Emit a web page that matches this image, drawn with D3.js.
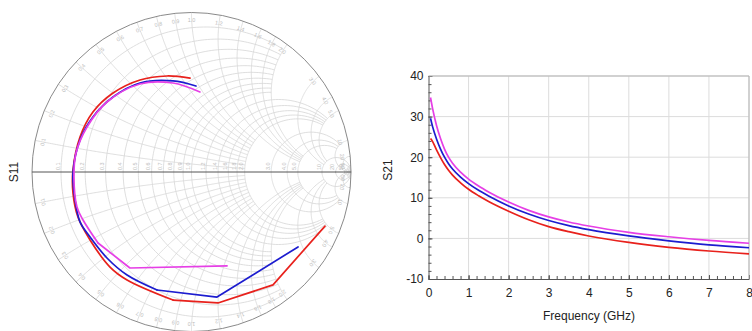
<!DOCTYPE html>
<html>
<head>
<meta charset="utf-8">
<script src="https://cdn.jsdelivr.net/npm/d3@7"></script>
<style>
  body { margin: 0; background: #fff; }
  svg { display: block; font-family: "Liberation Sans", Arial, sans-serif; }
</style>
</head>
<body>
<div id="chart"></div>
<script>
// S11 traces as reflection coefficient [re, im]; smooth arc part + straight tail
const s11RedArc = [
  [-0.009, 0.589], [-0.154, 0.602], [-0.323, 0.577], [-0.492, 0.495], [-0.618, 0.376],
  [-0.699, 0.219], [-0.743, 0.013], [-0.743, -0.132], [-0.712, -0.282], [-0.636, -0.426],
  [-0.511, -0.596], [-0.404, -0.677], [-0.116, -0.803]
];
const s11RedTail = [[-0.116, -0.803], [0.166, -0.821], [0.511, -0.708], [0.837, -0.339]];
const s11BlueArc = [
  [0.028, 0.539], [-0.116, 0.571], [-0.323, 0.558], [-0.492, 0.470], [-0.618, 0.345],
  [-0.699, 0.201], [-0.743, -0.006], [-0.730, -0.176], [-0.699, -0.313], [-0.636, -0.408],
  [-0.530, -0.539], [-0.404, -0.646], [-0.216, -0.740]
];
const s11BlueTail = [[-0.216, -0.740], [0.160, -0.784], [0.668, -0.470]];
const s11MagentaArc = [
  [0.053, 0.502], [-0.116, 0.558], [-0.323, 0.552], [-0.530, 0.439], [-0.655, 0.282],
  [-0.724, 0.119], [-0.737, -0.031], [-0.718, -0.219], [-0.680, -0.301], [-0.586, -0.445]
];
const s11MagentaTail = [[-0.586, -0.445], [-0.386, -0.602], [0.223, -0.589]];

// S21 (dB) vs frequency
const freqGHz    = [0.05, 0.1, 0.2, 0.3, 0.4, 0.5, 0.6, 0.8, 1.0, 1.25, 1.5, 2, 2.5, 3, 3.5, 4, 5, 6, 7, 8];
const s21Magenta = [34.7, 32.1, 27.8, 24.6, 22.0, 20.0, 18.5, 16.3, 14.6, 12.9, 11.45, 8.95, 6.9, 5.3, 4.05, 3.05, 1.5, 0.4, -0.5, -1.2];
const s21Blue    = [29.6, 27.6, 24.5, 22.0, 20.0, 18.4, 17.1, 15.1, 13.5, 11.85, 10.45, 8.0, 6.0, 4.4, 3.15, 2.15, 0.6, -0.6, -1.6, -2.3];
const s21Red     = [24.6, 23.9, 21.8, 19.9, 18.2, 16.8, 15.6, 13.7, 12.1, 10.5, 9.1, 6.7, 4.6, 2.9, 1.65, 0.6, -1.0, -2.2, -3.1, -3.8];

// Smith grid values: [value, truncation limit]
const resistanceGrid = [
  [0.1, 2], [0.2, 2], [0.3, 2], [0.4, 2], [0.5, 2], [0.6, 2], [0.7, 2], [0.8, 2], [0.9, 2], [1.0, 2],
  [1.2, 5], [1.4, 5], [1.6, 5], [1.8, 5], [2.0, 5],
  [3, 10], [4, 10], [5, 10], [10, Infinity], [20, Infinity], [50, Infinity]
];
const reactanceGrid = resistanceGrid;
const gridLabels = ["0.1","0.2","0.3","0.4","0.5","0.6","0.7","0.8","0.9","1.0",
  "1.2","1.4","1.6","1.8","2.0","3.0","4.0","5.0","10","20","50"];

const s21Ticks = [-10, 0, 10, 20, 30, 40];
const s21Minor = d3.range(-10, 41, 2);
const freqTicks = [0, 1, 2, 3, 4, 5, 6, 7, 8];
const freqMinor = d3.range(0, 8.01, 0.2);

const RED = "#e8211c", BLUE = "#1c1ccf", MAGENTA = "#e63fe6";

const svg = d3.select("#chart").append("svg")
  .attr("width", 752).attr("height", 331);
svg.append("rect").attr("width", 752).attr("height", 331).attr("fill", "#fff");

// ---------- Smith chart ----------
const cx = 191.5, cy = 172, R = 159.5;
const sx = d3.scaleLinear().domain([-1, 1]).range([cx - R, cx + R]);
const sy = d3.scaleLinear().domain([-1, 1]).range([cy + R, cy - R]);
const smithLine = d3.line().x(d => sx(d[0])).y(d => sy(d[1]));
const smithSmooth = d3.line().x(d => sx(d[0])).y(d => sy(d[1])).curve(d3.curveCatmullRom.alpha(0.5));

const gam = (r, x) => {
  const d = (r + 1) * (r + 1) + x * x;
  return [(r * r + x * x - 1) / d, 2 * x / d];
};
const N = 180;
function rCircle(r, xmax) {
  const tmax = Math.atan(xmax) * 0.99999;
  return d3.range(N + 1).map(i => gam(r, Math.tan(-tmax + 2 * tmax * i / N)));
}
function xArc(x, rmax) {
  const tmax = Math.atan(rmax) * 0.99999;
  return d3.range(N + 1).map(i => gam(Math.tan(tmax * i / N), x));
}

const grid = svg.append("g").attr("fill", "none").attr("stroke", "#d6d6d6").attr("stroke-width", 0.8);
resistanceGrid.forEach(([r, lim]) => grid.append("path").attr("d", smithLine(rCircle(r, lim))));
reactanceGrid.forEach(([x, lim]) => {
  grid.append("path").attr("d", smithLine(xArc(x, lim)));
  grid.append("path").attr("d", smithLine(xArc(-x, lim)));
});

// resistance labels along the real axis
const lab = svg.append("g").attr("fill", "#bdbdbd").attr("font-size", 5.5);
resistanceGrid.forEach(([r], i) => {
  const px = sx((r - 1) / (r + 1)) - 1.5, py = cy - 2;
  lab.append("text").attr("transform", `translate(${px},${py}) rotate(-90)`).text(gridLabels[i]);
});
// reactance labels just inside the rim
reactanceGrid.forEach(([x], i) => {
  [1, -1].forEach(s => {
    const th = s * (Math.PI - 2 * Math.atan(x));
    const px = sx(0.95 * Math.cos(th)), py = sy(0.95 * Math.sin(th));
    const deg = -th * 180 / Math.PI + 90;
    lab.append("text").attr("text-anchor", "middle")
      .attr("transform", `translate(${px},${py}) rotate(${deg})`).attr("dy", "0.35em")
      .text(gridLabels[i]);
  });
});

svg.append("circle").attr("cx", sx(0)).attr("cy", sy(0)).attr("r", R)
  .attr("fill", "none").attr("stroke", "#8a8a8a").attr("stroke-width", 1);
svg.append("line").attr("x1", sx(-1)).attr("x2", sx(1)).attr("y1", sy(0)).attr("y2", sy(0))
  .attr("stroke", "#555").attr("stroke-width", 1);

[[s11RedArc, s11RedTail, RED], [s11BlueArc, s11BlueTail, BLUE], [s11MagentaArc, s11MagentaTail, MAGENTA]]
  .forEach(([arc, tail, c]) => {
    const p = svg.append("g").attr("fill", "none").attr("stroke", c)
      .attr("stroke-width", 1.7).attr("stroke-linejoin", "round").attr("stroke-linecap", "round");
    p.append("path").attr("d", smithSmooth(arc));
    p.append("path").attr("d", smithLine(tail));
  });

svg.append("text").attr("transform", `translate(18,${cy}) rotate(-90)`)
  .attr("text-anchor", "middle").attr("font-size", 12).attr("fill", "#222").text("S11");

// ---------- S21 rectangular plot ----------
const x = d3.scaleLinear().domain([0, 8]).range([428.5, 749]);
const y = d3.scaleLinear().domain([-10, 40]).range([279, 76]);

const g2 = svg.append("g");
g2.append("g").selectAll("line").data(freqTicks.slice(1)).join("line")
  .attr("x1", d => x(d)).attr("x2", d => x(d)).attr("y1", y(-10)).attr("y2", y(40))
  .attr("stroke", "#dcdcdc").attr("stroke-width", 1);
g2.append("g").selectAll("line").data(s21Ticks.slice(1)).join("line")
  .attr("x1", x(0)).attr("x2", x(8)).attr("y1", d => y(d)).attr("y2", d => y(d))
  .attr("stroke", "#dcdcdc").attr("stroke-width", 1);

const yMinor = g2.append("g").attr("transform", `translate(${x(0)},0)`)
  .call(d3.axisLeft(y).tickValues(s21Minor).tickFormat("").tickSize(-3).tickSizeOuter(0));
const xMinor = g2.append("g").attr("transform", `translate(0,${y(-10)})`)
  .call(d3.axisBottom(x).tickValues(freqMinor).tickFormat("").tickSize(-3).tickSizeOuter(0));
[yMinor, xMinor].forEach(a => { a.select(".domain").remove(); a.selectAll("line").attr("stroke", "#555"); });

const yAxis = g2.append("g").attr("transform", `translate(${x(0)},0)`)
  .call(d3.axisLeft(y).tickValues(s21Ticks).tickFormat(d => String(d))
    .tickSize(-4).tickSizeOuter(0).tickPadding(5));
const xAxis = g2.append("g").attr("transform", `translate(0,${y(-10)})`)
  .call(d3.axisBottom(x).tickValues(freqTicks).tickFormat(d => String(d))
    .tickSize(-4).tickSizeOuter(0).tickPadding(9));
[yAxis, xAxis].forEach(a => {
  a.selectAll("text").attr("font-size", 12).attr("fill", "#222").attr("font-family", null);
  a.selectAll("line").attr("stroke", "#555");
  a.select(".domain").attr("stroke", "#555");
});

// frame top/right
g2.append("path").attr("d", `M${x(0)},${y(40)}H${x(8)}V${y(-10)}`)
  .attr("fill", "none").attr("stroke", "#b5b5b5");

const s21Line = d3.line().x((d, i) => x(freqGHz[i])).y(d => y(d)).curve(d3.curveMonotoneX);
[[s21Red, RED], [s21Blue, BLUE], [s21Magenta, MAGENTA]].forEach(([d, c]) => {
  g2.append("path").attr("d", s21Line(d)).attr("fill", "none")
    .attr("stroke", c).attr("stroke-width", 1.7);
});

svg.append("text").attr("transform", "translate(392,170) rotate(-90)")
  .attr("text-anchor", "middle").attr("font-size", 12).attr("fill", "#222").text("S21");
svg.append("text").attr("x", 589).attr("y", 320).attr("text-anchor", "middle")
  .attr("font-size", 12).attr("fill", "#222").text("Frequency (GHz)");
</script>
</body>
</html>
